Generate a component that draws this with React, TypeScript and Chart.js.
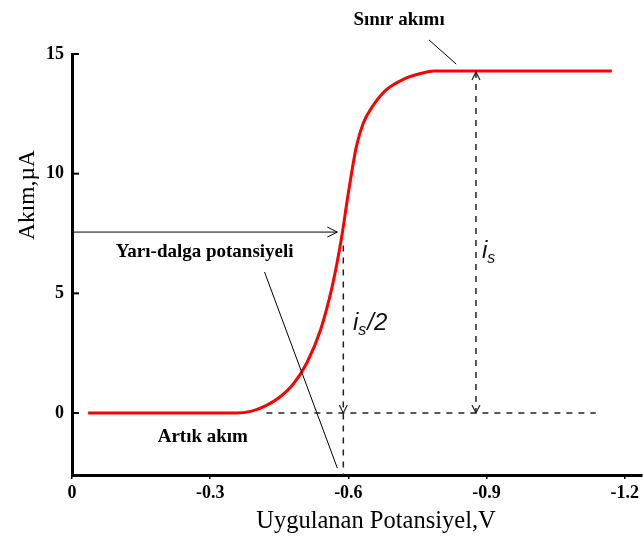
import React, { useEffect, useRef } from "react";
import { Chart, registerables } from "chart.js";

Chart.register(...registerables);

// Curve data (potential in V, current in µA)
const potential = [-0.035, -0.356, -0.39, -0.42, -0.45, -0.48, -0.51, -0.54, -0.565, -0.585, -0.6, -0.617, -0.632, -0.652, -0.682, -0.72, -0.76, -0.785, -1.172];
const current = [0, 0, 0.08, 0.3, 0.65, 1.2, 2.1, 3.5, 5.3, 7.3, 9.2, 11.1, 12.1, 12.8, 13.5, 13.95, 14.2, 14.29, 14.29];

const xTickValues = [0, -0.3, -0.6, -0.9, -1.2];
const xTickLabels = ["0", "-0.3", "-0.6", "-0.9", "-1.2"];
const yTickValues = [0, 5, 10, 15];
const yTickLabels = ["0", "5", "10", "15"];

const xTitle = "Uygulanan Potansiyel,V";
const yTitle = "Akım,µA";

// Annotation anchors in data units
const halfWaveCurrent = 7.56;
const halfWavePotential = -0.576;
const halfDashPotential = -0.589;
const halfDashTop = 7.0;
const limitPotential = -0.877;
const limitCurrent = 14.25;
const baseDashFrom = -0.422;
const baseDashTo = -1.137;

const labelSinir = { text: "Sınır akımı", v: -0.71, i: 16.42 };
const leaderSinir = [-0.775, 15.59, -0.834, 14.58];
const labelYari = { text: "Yarı-dalga potansiyeli", v: -0.288, i: 6.73 };
const leaderYari = [-0.418, 5.89, -0.576, -2.3];
const labelArtik = { text: "Artık akım", v: -0.284, i: -1.0 };
const labelIs = { v: -0.89, i: 6.48 };
const labelIs2 = { v: -0.61, i: 3.47 };

function openArrow(ctx: CanvasRenderingContext2D, tx: number, ty: number, dir: "r" | "u" | "d", len = 8, half = 4) {
  ctx.beginPath();
  if (dir === "r") {
    ctx.moveTo(tx - len, ty - half); ctx.lineTo(tx, ty); ctx.lineTo(tx - len, ty + half);
  } else if (dir === "u") {
    ctx.moveTo(tx - half, ty + len); ctx.lineTo(tx, ty); ctx.lineTo(tx + half, ty + len);
  } else {
    ctx.moveTo(tx - half, ty - len); ctx.lineTo(tx, ty); ctx.lineTo(tx + half, ty - len);
  }
  ctx.stroke();
}

function subText(ctx: CanvasRenderingContext2D, x: number, y: number, suffix: string) {
  ctx.textAlign = "left";
  ctx.textBaseline = "alphabetic";
  ctx.font = "italic 24px 'Liberation Sans'";
  ctx.fillText("i", x, y);
  let cx = x + ctx.measureText("i").width;
  ctx.font = "italic 16px 'Liberation Sans'";
  ctx.fillText("s", cx, y + 5);
  cx += ctx.measureText("s").width;
  if (suffix) {
    ctx.font = "italic 24px 'Liberation Sans'";
    ctx.fillText(suffix, cx + 1, y);
  }
}

const annotPlugin = {
  id: "annot",
  afterDraw(chart: any) {
    const { ctx, chartArea } = chart;
    const xs = chart.scales.x;
    const ys = chart.scales.y;
    const px = (v: number) => xs.getPixelForValue(v);
    const py = (v: number) => ys.getPixelForValue(v);
    ctx.save();
    ctx.fillStyle = "#000";
    ctx.strokeStyle = "#000";

    // inward y ticks
    ctx.lineWidth = 2;
    for (const v of yTickValues) {
      ctx.beginPath();
      ctx.moveTo(chartArea.left, py(v));
      ctx.lineTo(chartArea.left + 7, py(v));
      ctx.stroke();
    }

    // half-wave arrow
    ctx.lineWidth = 1;
    ctx.setLineDash([]);
    ctx.beginPath();
    ctx.moveTo(chartArea.left + 1, py(halfWaveCurrent));
    ctx.lineTo(px(halfWavePotential), py(halfWaveCurrent));
    ctx.stroke();
    openArrow(ctx, px(halfWavePotential), py(halfWaveCurrent), "r", 10, 5);

    // dashed lines
    ctx.strokeStyle = "#222";
    ctx.lineWidth = 1.5;
    ctx.setLineDash([6, 6]);
    ctx.beginPath();
    ctx.moveTo(px(halfDashPotential), py(halfDashTop));
    ctx.lineTo(px(halfDashPotential), chartArea.bottom);
    ctx.stroke();
    ctx.beginPath();
    ctx.moveTo(px(limitPotential), py(limitCurrent));
    ctx.lineTo(px(limitPotential), py(0));
    ctx.stroke();
    ctx.beginPath();
    ctx.moveTo(px(baseDashFrom), py(0));
    ctx.lineTo(px(baseDashTo), py(0));
    ctx.stroke();
    ctx.setLineDash([]);
    ctx.lineWidth = 1.2;
    openArrow(ctx, px(halfDashPotential), py(0), "d", 8, 4);
    openArrow(ctx, px(limitPotential), py(0), "d", 8, 4);
    openArrow(ctx, px(limitPotential), py(limitCurrent), "u", 8, 4);

    // leader lines
    ctx.strokeStyle = "#000";
    ctx.lineWidth = 1;
    ctx.beginPath();
    ctx.moveTo(px(leaderSinir[0]), py(leaderSinir[1]));
    ctx.lineTo(px(leaderSinir[2]), py(leaderSinir[3]));
    ctx.stroke();
    ctx.beginPath();
    ctx.moveTo(px(leaderYari[0]), py(leaderYari[1]));
    ctx.lineTo(px(leaderYari[2]), py(leaderYari[3]));
    ctx.stroke();

    // labels
    ctx.font = "bold 19px 'Liberation Serif'";
    ctx.textAlign = "center";
    ctx.textBaseline = "middle";
    for (const l of [labelSinir, labelYari, labelArtik]) {
      ctx.fillText(l.text, px(l.v), py(l.i));
    }
    ctx.fillStyle = "#111";
    subText(ctx, px(labelIs.v), py(labelIs.i), "");
    subText(ctx, px(labelIs2.v), py(labelIs2.i), "/2");

    // axis titles
    ctx.fillStyle = "#000";
    ctx.font = "24.5px 'Liberation Serif'";
    ctx.textAlign = "center";
    ctx.textBaseline = "middle";
    ctx.fillText(xTitle, 376, 522);
    ctx.font = "23.5px 'Liberation Serif'";
    ctx.save();
    ctx.translate(28, 195);
    ctx.rotate(-Math.PI / 2);
    ctx.fillText(yTitle, 0, 0);
    ctx.restore();

    ctx.restore();
  },
};

export default function App() {
  const ref = useRef<HTMLCanvasElement | null>(null);
  useEffect(() => {
    if (!ref.current) return;
    const chart = new Chart(ref.current, {
      type: "line",
      data: {
        datasets: [
          {
            data: potential.map((v, k) => ({ x: v, y: current[k] })),
            borderColor: "#ff0000",
            borderWidth: 3,
            pointRadius: 0,
            cubicInterpolationMode: "monotone",
            fill: false,
          },
        ],
      },
      options: {
        responsive: false,
        animation: false,
        devicePixelRatio: 1,
        layout: { padding: { top: 54, right: 0, bottom: 0, left: 0 } },
        plugins: { legend: { display: false }, tooltip: { enabled: false }, title: { display: false } },
        scales: {
          x: {
            type: "linear",
            reverse: true,
            min: -1.237,
            max: 0,
            afterBuildTicks: (s: any) => {
              s.ticks = xTickValues.map((v) => ({ value: v }));
            },
            afterFit: (s: any) => {
              s.height = 67;
            },
            grid: { display: true, drawOnChartArea: false, drawTicks: true, tickLength: 4, color: "#000", lineWidth: 1.5 },
            border: { display: true, color: "#000", width: 3 },
            ticks: {
              padding: 4,
              color: "#000",
              font: { family: "'Liberation Serif'", size: 18, weight: "bold" },
              maxRotation: 0,
              autoSkip: false,
              callback: (_v: any, idx: number) => xTickLabels[idx],
            },
          },
          y: {
            type: "linear",
            min: -2.59,
            max: 15,
            afterBuildTicks: (s: any) => {
              s.ticks = yTickValues.map((v) => ({ value: v }));
            },
            afterFit: (s: any) => {
              s.width = 72;
            },
            grid: { display: true, drawOnChartArea: false, drawTicks: false },
            border: { display: true, color: "#000", width: 3 },
            ticks: {
              padding: 8,
              color: "#000",
              font: { family: "'Liberation Serif'", size: 18, weight: "bold" },
              autoSkip: false,
              callback: (_v: any, idx: number) => yTickLabels[idx],
            },
          },
        },
      },
      plugins: [annotPlugin],
    } as any);
    return () => chart.destroy();
  }, []);
  return (
    <div style={{ position: "absolute", left: 0, top: 0, width: 643, height: 542, background: "#fff" }}>
      <canvas ref={ref} width={643} height={542} style={{ width: 643, height: 542, display: "block" }} />
    </div>
  );
}
